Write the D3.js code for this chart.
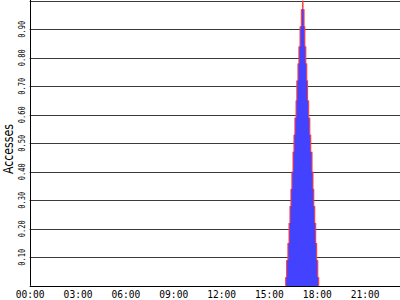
<!doctype html>
<html lang="en">
<head>
  <meta charset="utf-8">
  <title>Accesses per time of day</title>
  <script src="https://d3js.org/d3.v7.min.js"></script>
  <style>
    body { margin: 0; background: #fff; }
    svg { display: block; }
  </style>
</head>
<body>
<svg id="chart" width="400" height="300"></svg>
<script>
// hour labels along the bottom
var hourTicks  = [0, 3, 6, 9, 12, 15, 18, 21]
var hourLabels = ["00:00", "03:00", "06:00", "09:00", "12:00", "15:00", "18:00", "21:00"]
// accesses gridlines / labels
var accessTicks  = [0.1, 0.2, 0.3, 0.4, 0.5, 0.6, 0.7, 0.8, 0.9, 1.0]
var accessLabels = ["0.10", "0.20", "0.30", "0.40", "0.50", "0.60", "0.70", "0.80", "0.90"]

// bars: start / end time (hours) and accesses, widest first
var barStart = [16.05, 16.11, 16.19, 16.26, 16.32, 16.38, 16.44, 16.51, 16.57, 16.63, 16.70, 16.75, 16.82, 16.88, 16.95, 17.03, 17.12]
var barEnd   = [18.12, 18.06, 17.99, 17.93, 17.87, 17.81, 17.76, 17.70, 17.62, 17.56, 17.49, 17.42, 17.37, 17.31, 17.25, 17.20, 17.12]
var accesses = [0.03, 0.09, 0.15, 0.22, 0.28, 0.34, 0.40, 0.47, 0.53, 0.59, 0.65, 0.72, 0.78, 0.84, 0.91, 0.97, 1.00]

var svg = d3.select("#chart"),
  width = +svg.attr("width"),
  height = +svg.attr("height");

// plot box ("top" is taken by window.top, so use other names)
var plotLeft = 29.7, plotRight = 400, plotBottom = 285.8, plotTop = 0.8;

// 24h would run past the right edge, the image just cuts it off
var x = d3.scaleLinear().domain([0, 24]).range([plotLeft, plotLeft + 24 * 15.95]);
var y = d3.scaleLinear().domain([0, 1]).range([plotBottom, plotTop]);

svg.append("clipPath").attr("id", "plot")
  .append("rect").attr("x", plotLeft).attr("y", 0).attr("width", plotRight - plotLeft).attr("height", plotBottom + 1);

// gridlines
svg.append("g")
  .selectAll("line")
  .data(accessTicks)
  .enter()
  .append("line")
    .attr("x1", plotLeft)
    .attr("x2", plotRight)
    .attr("y1", function(d) { return Math.round(y(d)) + 0.5 })
    .attr("y2", function(d) { return Math.round(y(d)) + 0.5 })
    .style("stroke", "#3a3a3a")
    .style("stroke-width", 1)

// bars, narrowest (tallest) first so the wider ones cover their lower part
var bars = d3.range(accesses.length).reverse().map(function(i) {
  return { start: barStart[i], end: barEnd[i], value: accesses[i] }
})

var g = svg.append("g").attr("clip-path", "url(#plot)");
bars.forEach(function(d) {
  g.append("rect")
    .attr("x", x(d.start))
    .attr("width", Math.max(0, x(d.end) - x(d.start)))
    .attr("y", y(d.value))
    .attr("height", y(0) - y(d.value))
    .style("fill", "#4242ff")
  g.selectAll(null)
    .data([d.start, d.end])
    .enter()
    .append("line")
      .attr("x1", function(t) { return x(t) })
      .attr("x2", function(t) { return x(t) })
      .attr("y1", y(0))
      .attr("y2", y(d.value))
      .style("stroke", "#ff3c3c")
      .style("stroke-width", 1.1)
})

// axes
var xAxis = d3.axisBottom(x)
  .tickValues(hourTicks)
  .tickSize(0)
  .tickPadding(5)
  .tickFormat(function(d, i) { return hourLabels[i] });

var gx = svg.append("g")
  .attr("transform", "translate(0," + plotBottom + ")")
  .call(xAxis);
gx.select(".domain").remove();
gx.selectAll("text")
  .style("font-family", "'DejaVu Sans Mono', monospace")
  .style("font-size", "9.6px")
  .style("fill", "#000")
  .attr("dy", "0.75em");

svg.append("line")
  .attr("x1", plotLeft).attr("x2", plotRight)
  .attr("y1", Math.round(plotBottom) + 0.5).attr("y2", Math.round(plotBottom) + 0.5)
  .style("stroke", "#000");
svg.append("line")
  .attr("x1", Math.round(plotLeft) + 0.5).attr("x2", Math.round(plotLeft) + 0.5)
  .attr("y1", 0).attr("y2", plotBottom)
  .style("stroke", "#000");

// rotated y labels
svg.append("g")
  .selectAll("text")
  .data(accessLabels)
  .enter()
  .append("text")
    .attr("transform", function(d, i) { return "translate(24.5," + y(accessTicks[i]) + ") rotate(-90)" })
    .attr("text-anchor", "middle")
    .attr("textLength", 17)
    .attr("lengthAdjust", "spacingAndGlyphs")
    .style("font-family", "'DejaVu Sans Mono', monospace")
    .style("font-size", "8.4px")
    .style("fill", "#000")
    .text(function(d) { return d })

svg.append("text")
  .attr("transform", "translate(13," + 149 + ") rotate(-90)")
  .attr("text-anchor", "middle")
  .attr("textLength", 50)
  .attr("lengthAdjust", "spacingAndGlyphs")
  .style("font-family", "'DejaVu Sans', sans-serif")
  .style("font-size", "14px")
  .style("fill", "#000")
  .text("Accesses")
</script>
</body>
</html>
